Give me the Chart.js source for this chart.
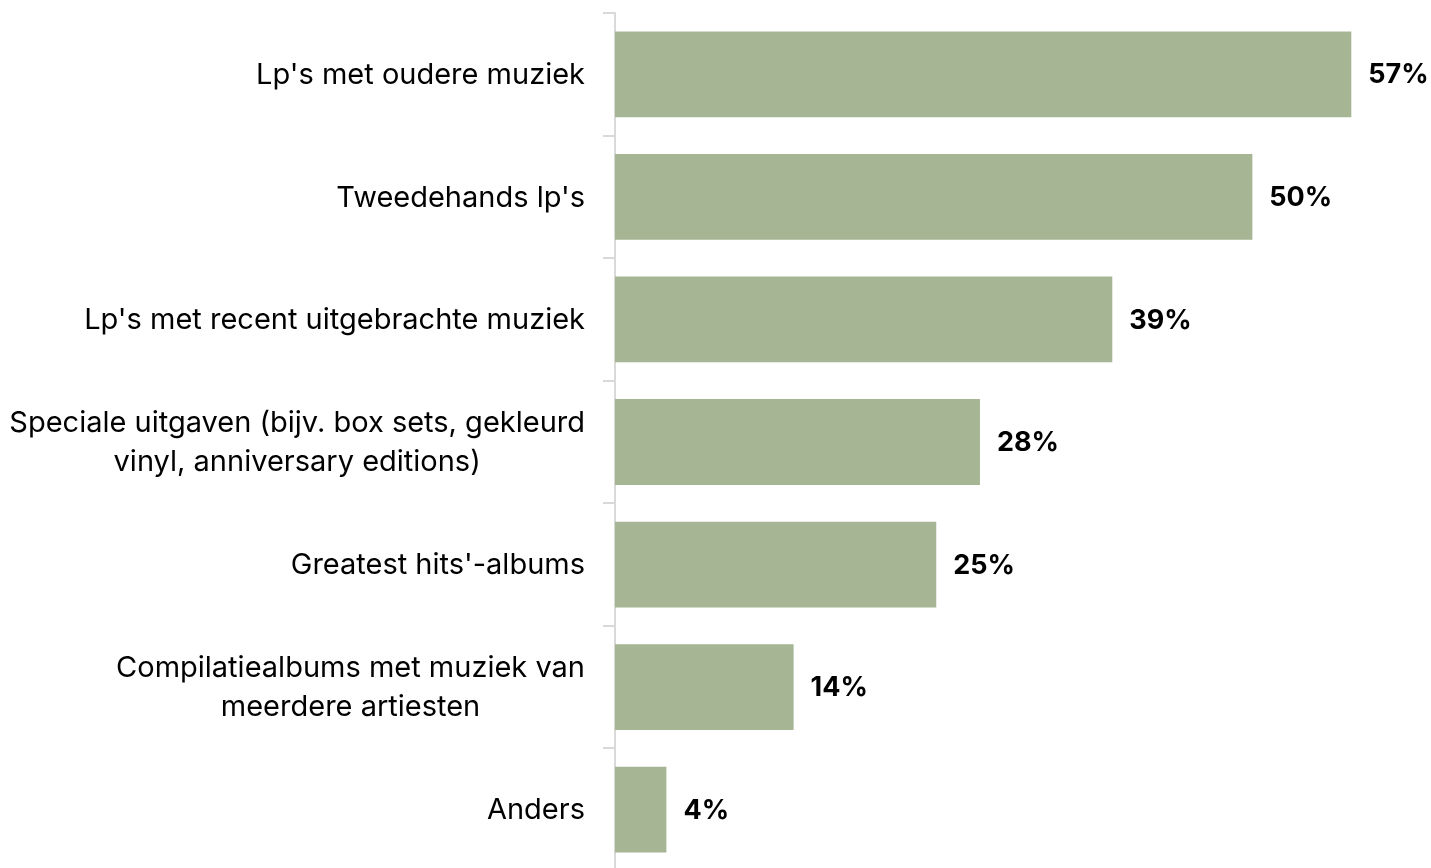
<!DOCTYPE html>
<html>
<head>
<meta charset="utf-8">
<script src="https://cdn.jsdelivr.net/npm/chart.js@4"></script>
<style>
  html, body { margin: 0; padding: 0; background: #fff; overflow: hidden; }
  canvas { display: block; }
</style>
</head>
<body>
<canvas id="chart" width="1431" height="871"></canvas>
<script>
// categorieën (meerregelige labels als array)
const categories = [
  ["Lp's met oudere muziek"],
  ["Tweedehands lp's"],
  ["Lp's met recent uitgebrachte muziek"],
  ["Speciale uitgaven (bijv. box sets, gekleurd", "vinyl, anniversary editions)"],
  ["Greatest hits'-albums"],
  ["Compilatiealbums met muziek van", "meerdere artiesten"],
  ["Anders"],
];
const values = [57.3, 49.6, 38.7, 28.4, 25.0, 13.9, 4.0];
const valueLabels = ["57%", "50%", "39%", "28%", "25%", "14%", "4%"];

const BAR_COLOR = "#a6b593";
const AXIS_COLOR = "#d9d9d9";
const LABEL_FONT = "29px Inter";
const VALUE_FONT = "bold 27px Inter";

// ----------------- plugins -----------------
const categoryLabels = {
  id: "categoryLabels",
  afterDraw(chart) {
    const ctx = chart.ctx;
    const yScale = chart.scales.y;
    const rightEdge = yScale.right - 30;
    const lineH = 39;
    ctx.save();
    ctx.font = LABEL_FONT;
    ctx.fillStyle = "#000";
    ctx.textBaseline = "middle";
    ctx.textAlign = "center";
    categories.forEach((lines, i) => {
      const yc = yScale.getPixelForValue(i) + 1;
      const maxW = Math.max(...lines.map((l) => ctx.measureText(l).width));
      const xc = rightEdge - maxW / 2;
      const y0 = yc - ((lines.length - 1) * lineH) / 2;
      lines.forEach((l, k) => ctx.fillText(l, xc, y0 + k * lineH));
    });
    ctx.restore();
  },
};

const valueLabelsPlugin = {
  id: "valueLabels",
  afterDatasetsDraw(chart) {
    const ctx = chart.ctx;
    const meta = chart.getDatasetMeta(0);
    ctx.save();
    ctx.font = VALUE_FONT;
    ctx.fillStyle = "#000";
    ctx.textBaseline = "middle";
    ctx.textAlign = "left";
    meta.data.forEach((bar, i) => {
      ctx.fillText(valueLabels[i], bar.x + 17, bar.y + 1);
    });
    ctx.restore();
  },
};

// ----------------- grafiek -----------------
new Chart(document.getElementById("chart"), {
  type: "bar",
  data: {
    labels: categories,
    datasets: [
      {
        data: values,
        backgroundColor: BAR_COLOR,
        barPercentage: 0.7,
        categoryPercentage: 1.0,
      },
    ],
  },
  options: {
    indexAxis: "y",
    responsive: false,
    animation: false,
    layout: { padding: { top: 13, right: 45, bottom: 0, left: 0 } },
    plugins: { legend: { display: false }, tooltip: { enabled: false } },
    scales: {
      x: { display: false, min: 0, max: 60 },
      y: {
        afterFit(scale) {
          scale.width = 615;
          scale.paddingTop = 0;
          scale.paddingBottom = 0;
        },
        border: { display: true, color: AXIS_COLOR, width: 2 },
        grid: {
          offset: true,
          drawOnChartArea: false,
          drawTicks: true,
          tickLength: 12,
          color: AXIS_COLOR,
          lineWidth: 2,
        },
        ticks: { display: false },
      },
    },
  },
  plugins: [categoryLabels, valueLabelsPlugin],
});
</script>
</body>
</html>
